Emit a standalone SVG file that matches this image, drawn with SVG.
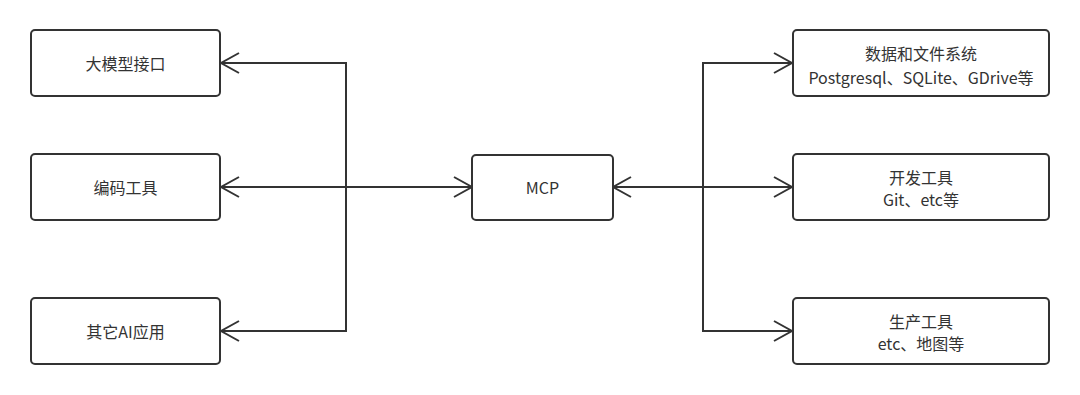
<svg xmlns="http://www.w3.org/2000/svg" width="1080" height="395" viewBox="0 0 1080 395">
<style>
.box{fill:#fff;stroke:#333;stroke-width:2}
.t{font-family:"Microsoft YaHei","Noto Sans CJK SC","Noto Sans",sans-serif;font-size:16px;fill:#333;text-anchor:middle;dominant-baseline:central}
.c{fill:none;stroke:#333;stroke-width:2}
</style>
<defs>
<marker id="arr" markerUnits="userSpaceOnUse" viewBox="-20 -12 22 24" markerWidth="22" markerHeight="24" refX="0" refY="0" orient="auto-start-reverse">
<path d="M-18,-10 L0,0 L-18,10" fill="none" stroke="#333" stroke-width="2"/>
</marker>
</defs>
<rect width="1080" height="395" fill="#fff"/>
<g id="connectors">
<path class="c" d="M472,187 H346 V63 H221" marker-start="url(#arr)" marker-end="url(#arr)"/>
<path class="c" d="M346,187 H221" marker-end="url(#arr)"/>
<path class="c" d="M346,187 V331 H221" marker-end="url(#arr)"/>
<path class="c" d="M613,187 H703 V63 H792" marker-start="url(#arr)" marker-end="url(#arr)"/>
<path class="c" d="M703,187 H792" marker-end="url(#arr)"/>
<path class="c" d="M703,187 V331 H792" marker-end="url(#arr)"/>
</g>
<g id="n1"><rect class="box" x="31" y="30" width="189" height="66" rx="4"/><text class="t" x="125.5" y="63">大模型接口</text></g>
<g id="n2"><rect class="box" x="31" y="154" width="189" height="66" rx="4"/><text class="t" x="125.5" y="187">编码工具</text></g>
<g id="n3"><rect class="box" x="31" y="298" width="189" height="66" rx="4"/><text class="t" x="125.5" y="331">其它AI应用</text></g>
<g id="mcp"><rect class="box" x="472" y="155" width="141" height="65" rx="4"/><text class="t" x="542.5" y="187">MCP</text></g>
<g id="r1"><rect class="box" x="793" y="30" width="256" height="66" rx="4"/><text class="t" x="921" y="53">数据和文件系统</text><text class="t" x="921" y="77">Postgresql、SQLite、GDrive等</text></g>
<g id="r2"><rect class="box" x="793" y="154" width="256" height="66" rx="4"/><text class="t" x="921" y="177">开发工具</text><text class="t" x="921" y="199">Git、etc等</text></g>
<g id="r3"><rect class="box" x="793" y="298" width="256" height="66" rx="4"/><text class="t" x="921" y="321">生产工具</text><text class="t" x="921" y="343">etc、地图等</text></g>
</svg>
